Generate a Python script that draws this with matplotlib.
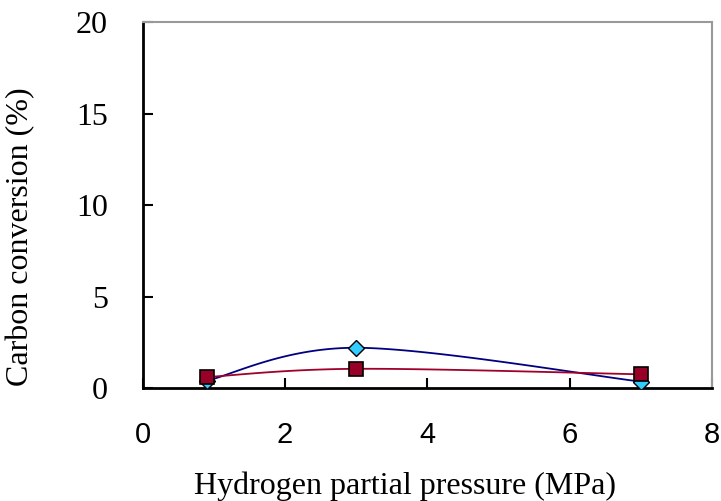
import numpy as np
import matplotlib
matplotlib.use("Agg")
import matplotlib.pyplot as plt

# Data
pressure = [0.9, 3.0, 7.0]
conv_diamond = [0.4, 2.2, 0.35]
conv_square = [0.6, 1.05, 0.75]

x_ticks = [0, 2, 4, 6, 8]
y_ticks = [0, 5, 10, 15, 20]


def smooth(xs, ys, n=60):
    """Catmull-Rom style bezier smoothing, close to Excel's smoothed lines."""
    xs = np.asarray(xs, float)
    ys = np.asarray(ys, float)
    px = np.concatenate([[xs[0]], xs, [xs[-1]]])
    py = np.concatenate([[ys[0]], ys, [ys[-1]]])
    outx, outy = [], []
    t = np.linspace(0, 1, n)
    for i in range(1, len(px) - 2):
        p0 = np.array([px[i], py[i]])
        p3 = np.array([px[i + 1], py[i + 1]])
        p1 = p0 + (np.array([px[i + 1], py[i + 1]]) - np.array([px[i - 1], py[i - 1]])) / 6
        p2 = p3 - (np.array([px[i + 2], py[i + 2]]) - np.array([px[i], py[i]])) / 6
        b = ((1 - t) ** 3)[:, None] * p0 + (3 * (1 - t) ** 2 * t)[:, None] * p1 \
            + (3 * (1 - t) * t ** 2)[:, None] * p2 + (t ** 3)[:, None] * p3
        outx.extend(b[:, 0])
        outy.extend(b[:, 1])
    return outx, outy


fig = plt.figure(figsize=(7.21, 5.01), dpi=100)
ax = fig.add_axes([0.198, 0.2255, 0.7895, 0.7305])

sx, sy = smooth(pressure, conv_diamond)
ax.plot(sx, sy, color="#000080", lw=1.3, zorder=2)
sx, sy = smooth(pressure, conv_square)
ax.plot(sx, sy, color="#A0002A", lw=1.3, zorder=2)

ax.plot(pressure, conv_diamond, ls="none", marker="D", ms=8,
        mfc="#33CCFF", mec="black", mew=1.0, zorder=3)
ax.plot(pressure, conv_square, ls="none", marker="s", ms=10,
        mfc="#990028", mec="black", mew=1.2, zorder=4)

ax.set_xlim(0, 8)
ax.set_ylim(0, 20)
ax.set_xticks(x_ticks)
ax.set_yticks(y_ticks)
ax.set_xticklabels([str(v) for v in x_ticks], family="Liberation Sans", fontsize=21)
ax.set_yticklabels([str(v) for v in y_ticks], family="Liberation Serif", fontsize=23)
ax.tick_params(axis="x", direction="in", length=7, width=1.5, pad=24)
ax.tick_params(axis="y", direction="in", length=7, width=1.5, pad=25)

for s in ["left", "bottom"]:
    ax.spines[s].set_color("black")
    ax.spines[s].set_linewidth(2)
for s in ["top", "right"]:
    ax.spines[s].set_color("#999999")
    ax.spines[s].set_linewidth(1.5)

ax.set_xlabel("Hydrogen partial pressure (MPa)", family="Liberation Serif",
              fontsize=23, va="baseline")
ax.xaxis.set_label_coords(0.4605, -0.2896)
ax.set_ylabel("Carbon conversion (%)", family="Liberation Serif",
              fontsize=23, va="center")
ax.yaxis.set_label_coords(-0.2144, 0.4126)

fig.savefig("out.png", dpi=100)
